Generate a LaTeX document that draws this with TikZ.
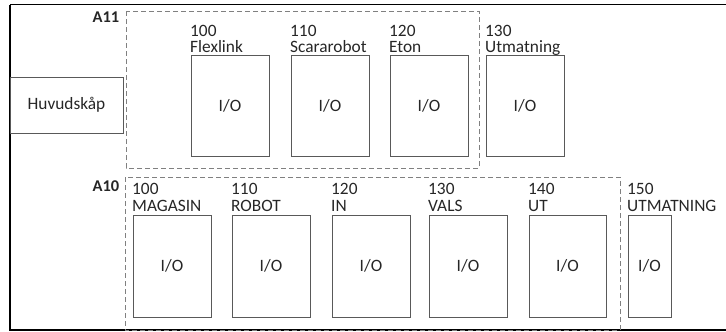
\documentclass[tikz,border=0pt]{standalone}
\usepackage{fontspec}
\setmainfont{Carlito}
\begin{document}
\begin{tikzpicture}[x=1bp,y=-1bp,
  every node/.style={font=\fontsize{17.4}{17.4}\selectfont, text=black!85, inner sep=0pt},
  iobox/.style={draw=black!65, line width=0.9bp},
  grp/.style={draw=black!50, line width=0.9bp, dash pattern=on 5bp off 3bp},
  lbl/.style={anchor=base west},
  grplbl/.style={anchor=base east, font=\fontsize{16.5}{16.5}\selectfont\bfseries}]
\useasboundingbox (0,0) rectangle (726,331);
\draw[line width=1.5bp, black] (10,4.5) -- (730,4.5) (10,4.5) -- (10,330) -- (730,330);
% groups
\draw[grp] (126,11) rectangle (479,168);
\draw[grp] (125,177) rectangle (620,330);
\node[grplbl] (a11) at (119.5,22.5) {A11};
\node[grplbl] (a10) at (119.5,191) {A10};
% main cabinet
\draw[iobox] (10,77) rectangle (123,133);
\node (huv) at (66.5,105) {Huvudskåp};
% A11 row
\foreach \x/\w/\n/\t [count=\i] in {191/78/100/Flexlink, 291/78/110/Scararobot, 390/78/120/Eton, 486/78/130/Utmatning}{
  \draw[iobox] (\x,55) rectangle ++(\w,101);
  \node (u\i) at (\x+\w/2,106) {I/O};
  \node[lbl] (un\i) at (\x-1,36) {\n};
  \node[lbl] (ut\i) at (\x-1,52) {\t};
}
% A10 row
\foreach \x/\w/\n/\t [count=\i] in {133/78/100/MAGASIN, 232/78/110/ROBOT, 332/78/120/IN, 429/78/130/VALS, 529/77/140/UT, 628/43/150/UTMATNING}{
  \draw[iobox] (\x,215) rectangle (\x+\w,317);
  \node (l\i) at (\x+\w/2,266) {I/O};
  \node[lbl] (ln\i) at (\x-1,194.5) {\n};
  \node[lbl] (lt\i) at (\x-1,211) {\t};
}
\end{tikzpicture}
\end{document}
